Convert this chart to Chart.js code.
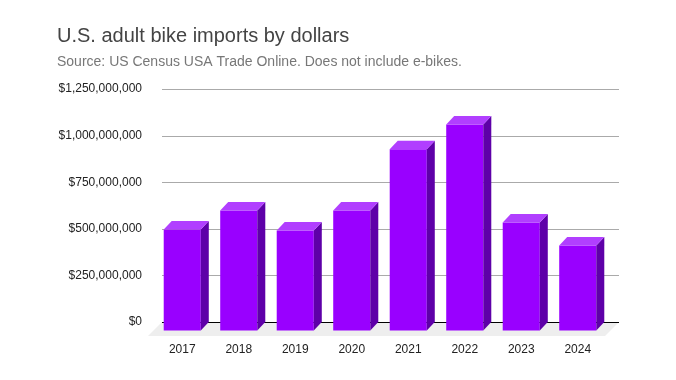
<!DOCTYPE html>
<html>
<head>
<meta charset="utf-8">
<script src="https://cdn.jsdelivr.net/npm/chart.js@4"></script>
<style>
html,body{margin:0;padding:0;background:#fff;}
canvas{display:block;}
</style>
</head>
<body>
<canvas id="c" width="676" height="380"></canvas>
<script>
const years = ['2017','2018','2019','2020','2021','2022','2023','2024'];
const importDollars = [542000000, 644000000, 536000000, 644000000, 973000000, 1105000000, 579000000, 456000000];
const yTickValues = [0, 250000000, 500000000, 750000000, 1000000000, 1250000000];
const titleText = 'U.S. adult bike imports by dollars';
const subtitleText = 'Source: US Census USA Trade Online. Does not include e-bikes.';

const FONT = "Arial, 'Liberation Sans', sans-serif";
const DX = 8, DY = 8.5;

const threeD = {
  id: 'threeD',
  beforeDatasetsDraw(chart) {
    const {ctx, chartArea: a, scales: {y}} = chart;
    const base = Math.round(y.getPixelForValue(0));
    const wallRight = a.right + 5;
    ctx.save();
    ctx.fillStyle = '#eeeeee';
    ctx.beginPath();
    ctx.moveTo(a.left, base);
    ctx.lineTo(wallRight, base);
    ctx.lineTo(wallRight - 14, base + 14);
    ctx.lineTo(a.left - 14, base + 14);
    ctx.closePath();
    ctx.fill();
    ctx.lineWidth = 1;
    y.ticks.forEach(t => {
      const py = Math.round(y.getPixelForValue(t.value)) + 0.5;
      ctx.strokeStyle = t.value === 0 ? '#000000' : '#aaaaaa';
      ctx.beginPath();
      ctx.moveTo(a.left, py);
      ctx.lineTo(wallRight, py);
      ctx.stroke();
    });
    ctx.restore();
    ctx.save();
    ctx.translate(-DX, DY);
  },
  afterDatasetsDraw(chart) {
    const {ctx} = chart;
    ctx.restore();
    ctx.save();
    chart.getDatasetMeta(0).data.forEach(bar => {
      const {x, y, base, width} = bar.getProps(['x', 'y', 'base', 'width'], true);
      const l = x - width / 2 - DX, r = x + width / 2 - DX;
      const t = y + DY, b = base + DY;
      ctx.fillStyle = '#5e00a8';
      ctx.beginPath();
      ctx.moveTo(r, t);
      ctx.lineTo(r + DX, t - DY);
      ctx.lineTo(r + DX, b - DY);
      ctx.lineTo(r, b);
      ctx.closePath();
      ctx.fill();
      ctx.fillStyle = '#b13fff';
      ctx.beginPath();
      ctx.moveTo(l, t);
      ctx.lineTo(l + DX, t - DY);
      ctx.lineTo(r + DX, t - DY);
      ctx.lineTo(r, t);
      ctx.closePath();
      ctx.fill();
    });
    ctx.restore();
  }
};

new Chart(document.getElementById('c'), {
  type: 'bar',
  data: {
    labels: years,
    datasets: [{
      data: importDollars,
      backgroundColor: '#9900ff',
      borderWidth: 0,
      barPercentage: 0.656,
      categoryPercentage: 1,
      clip: false
    }]
  },
  options: {
    responsive: false,
    animation: false,
    layout: {padding: {left: 57, right: 62, top: 0, bottom: 0}},
    plugins: {
      legend: {display: false},
      tooltip: {enabled: false},
      title: {
        display: true, text: titleText, align: 'start', color: '#444444',
        font: {family: FONT, size: 20, weight: 'normal'},
        padding: {top: 24, bottom: 0}
      },
      subtitle: {
        display: true, text: subtitleText, align: 'start', color: '#777777',
        font: {family: FONT, size: 14, weight: 'normal'},
        padding: {top: 6, bottom: 18.2}
      }
    },
    scales: {
      x: {
        grid: {display: false, drawTicks: false},
        border: {display: false},
        ticks: {color: '#222222', font: {family: FONT, size: 12}, padding: 20, labelOffset: -8, maxRotation: 0},
        afterFit(s) { s.height = 58; }
      },
      y: {
        min: 0, max: 1250000000,
        afterBuildTicks(s) { s.ticks = yTickValues.map(v => ({value: v})); },
        grid: {display: false, drawTicks: false},
        border: {display: false},
        ticks: {
          color: '#222222', font: {family: FONT, size: 12}, padding: 20,
          callback: v => '$' + Number(v).toLocaleString('en-US')
        },
        afterFit(s) { s.width = 105; }
      }
    }
  },
  plugins: [threeD]
});
</script>
</body>
</html>
